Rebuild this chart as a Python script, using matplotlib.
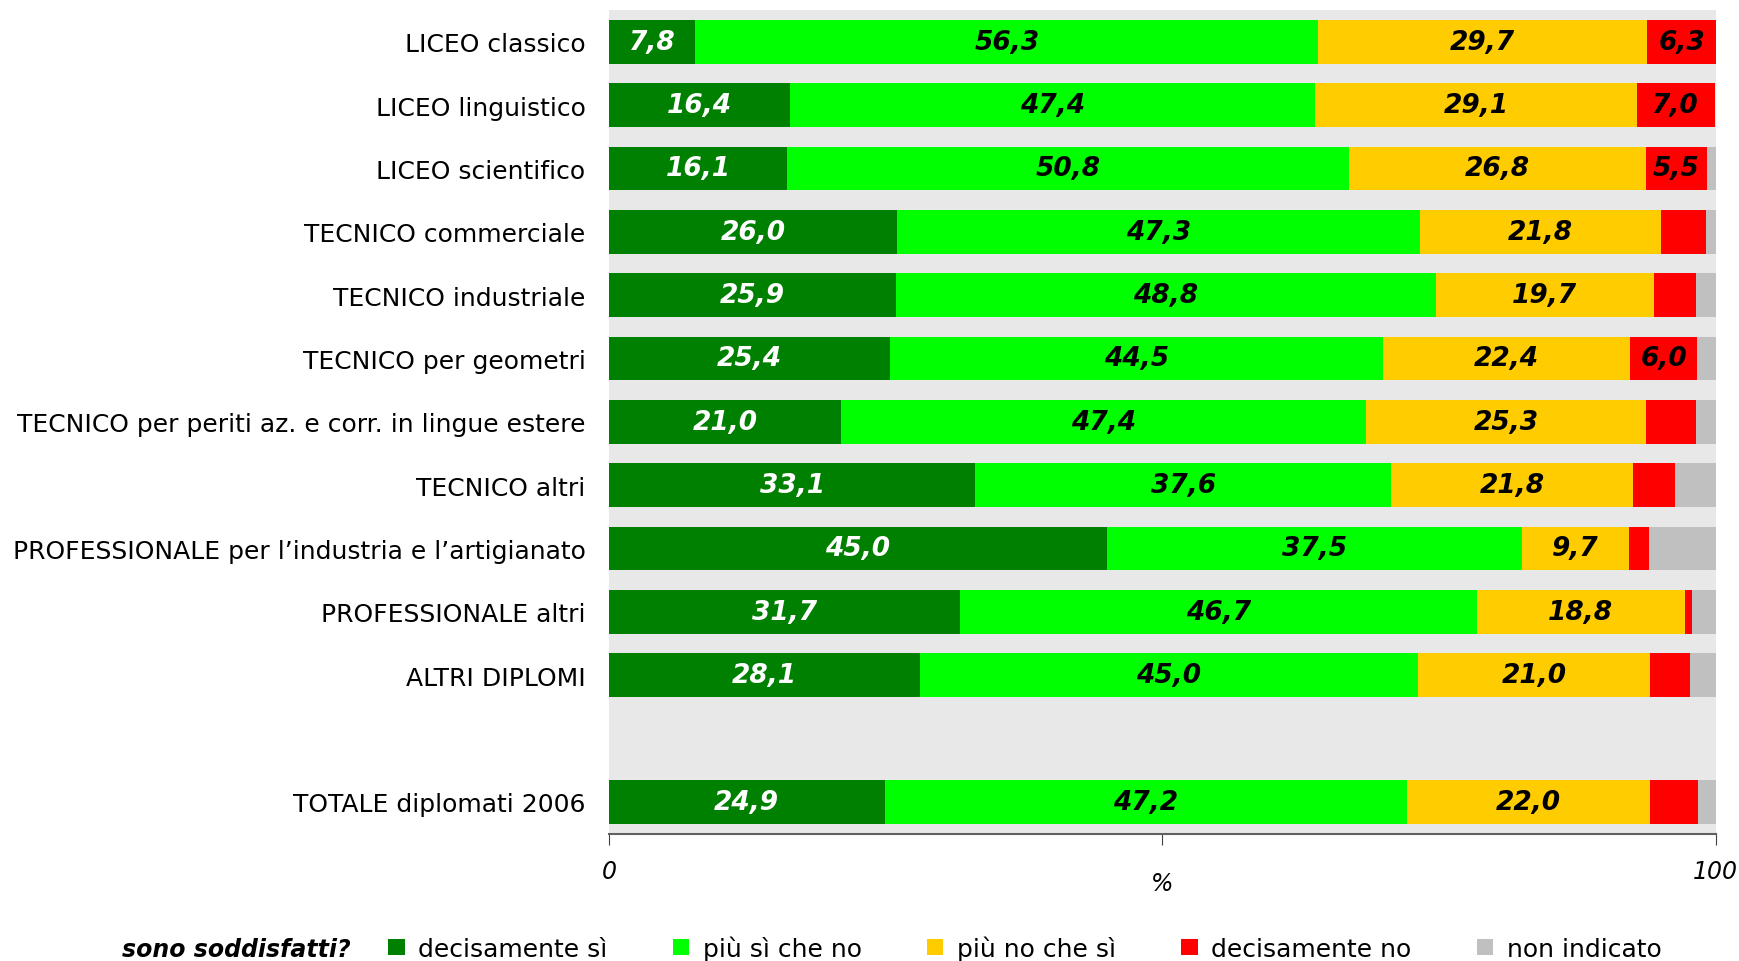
import matplotlib.pyplot as plt
import numpy as np

# categories (top to bottom), empty slot before the total row
categories = [
    "LICEO classico",
    "LICEO linguistico",
    "LICEO scientifico",
    "TECNICO commerciale",
    "TECNICO industriale",
    "TECNICO per geometri",
    "TECNICO per periti az. e corr. in lingue estere",
    "TECNICO altri",
    "PROFESSIONALE per l\u2019industria e l\u2019artigianato",
    "PROFESSIONALE altri",
    "ALTRI DIPLOMI",
    "",
    "TOTALE diplomati 2006",
]

decisamente_si = [7.8, 16.4, 16.1, 26.0, 25.9, 25.4, 21.0, 33.1, 45.0, 31.7, 28.1, 0, 24.9]
piu_si = [56.3, 47.4, 50.8, 47.3, 48.8, 44.5, 47.4, 37.6, 37.5, 46.7, 45.0, 0, 47.2]
piu_no = [29.7, 29.1, 26.8, 21.8, 19.7, 22.4, 25.3, 21.8, 9.7, 18.8, 21.0, 0, 22.0]
decisamente_no = [6.3, 7.0, 5.5, 4.0, 3.8, 6.0, 4.5, 3.8, 1.8, 0.7, 3.6, 0, 4.3]
non_indicato = [0.0, 0.0, 0.8, 0.9, 1.8, 1.7, 1.8, 3.7, 6.0, 2.1, 2.3, 0, 1.6]

series = [decisamente_si, piu_si, piu_no, decisamente_no, non_indicato]
series_names = ["decisamente sì", "più sì che no", "più no che sì", "decisamente no", "non indicato"]
colors = ["#008000", "#00ff00", "#ffcc00", "#ff0000", "#c0c0c0"]
label_colors = ["white", "black", "black", "black", None]
min_label = 5.0

fig = plt.figure(figsize=(17.4, 9.62), dpi=100)
ax = fig.add_axes([0.35, 0.1325, 0.636, 0.856])
ax.set_facecolor("#e8e8e8")

y = np.arange(len(categories))
left = np.zeros(len(categories))
handles = []
for vals, name, col, lcol in zip(series, series_names, colors, label_colors):
    vals = np.array(vals)
    bars = ax.barh(y, vals, left=left, height=0.69, color=col, label=name)
    handles.append(bars)
    if lcol is not None:
        for yi, v, l in zip(y, vals, left):
            if v >= min_label:
                ax.text(l + v / 2, yi, f"{v:.1f}".replace(".", ","), ha="center", va="center",
                        color=lcol, fontsize=19, fontweight="bold", fontstyle="italic")
    left = left + vals

ax.set_xlim(0, 100)
ax.set_ylim(len(categories) - 0.5, -0.5)
ax.set_yticks(y)
ax.set_yticklabels(categories, fontsize=18)
ax.tick_params(axis="y", length=0, pad=17)

ax.set_xticks([0, 50, 100])
ax.set_xticklabels(["0", "", "100"], fontsize=17, fontstyle="italic")
ax.tick_params(axis="x", length=8, color="#404040", pad=10)
ax.set_xlabel("%", fontsize=17, fontstyle="italic", labelpad=-8)

for s in ["top", "right", "left"]:
    ax.spines[s].set_visible(False)
ax.spines["bottom"].set_color("#606060")
ax.spines["bottom"].set_linewidth(1.5)

fig.text(0.070, 0.0125, "sono soddisfatti?", fontsize=17, fontweight="bold", fontstyle="italic",
         va="center", ha="left")
fig.legend(handles=handles, loc="center left", bbox_to_anchor=(0.223, 0.0135), ncol=5, frameon=False,
           fontsize=18, handlelength=0.66, handleheight=0.66, handletextpad=0.55, columnspacing=2.6,
           borderaxespad=0, borderpad=0)

fig.savefig("out.png", dpi=100)
